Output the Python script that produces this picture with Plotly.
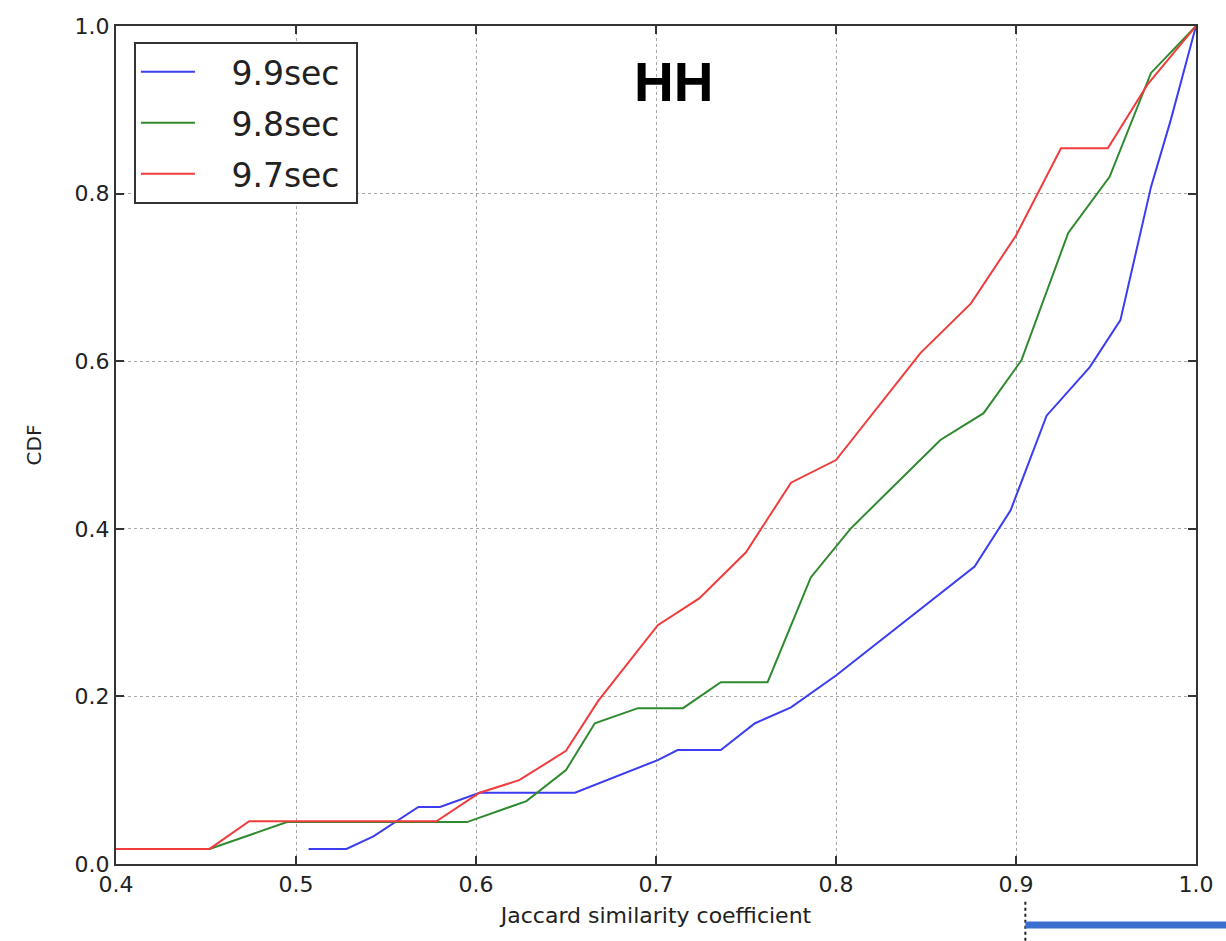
import plotly.graph_objects as go

# CDF curves of the Jaccard similarity coefficient for three time offsets
series_names = ["9.9sec", "9.8sec", "9.7sec"]

x_99 = [0.507, 0.528, 0.543, 0.568, 0.580, 0.602, 0.650, 0.655, 0.701, 0.712, 0.736,
        0.755, 0.775, 0.800, 0.877, 0.897, 0.917, 0.941, 0.958, 0.975, 0.986, 1.000]
y_99 = [0.018, 0.018, 0.033, 0.068, 0.068, 0.085, 0.085, 0.085, 0.124, 0.136, 0.136,
        0.168, 0.187, 0.225, 0.355, 0.422, 0.535, 0.593, 0.649, 0.808, 0.888, 1.000]

x_98 = [0.400, 0.452, 0.495, 0.580, 0.595, 0.628, 0.650, 0.666, 0.690, 0.715, 0.736,
        0.762, 0.786, 0.808, 0.858, 0.882, 0.903, 0.929, 0.952, 0.975, 1.000]
y_98 = [0.018, 0.018, 0.050, 0.050, 0.050, 0.075, 0.112, 0.168, 0.186, 0.186, 0.217,
        0.217, 0.342, 0.400, 0.506, 0.538, 0.601, 0.753, 0.820, 0.944, 1.000]

x_97 = [0.400, 0.452, 0.474, 0.578, 0.602, 0.624, 0.650, 0.668, 0.701, 0.724, 0.750,
        0.775, 0.800, 0.847, 0.875, 0.900, 0.925, 0.951, 0.973, 1.000]
y_97 = [0.018, 0.018, 0.051, 0.051, 0.085, 0.100, 0.135, 0.195, 0.285, 0.317, 0.372,
        0.455, 0.482, 0.610, 0.669, 0.750, 0.854, 0.854, 0.930, 1.000]

x_ticks = [0.4, 0.5, 0.6, 0.7, 0.8, 0.9, 1.0]
y_ticks = [0.0, 0.2, 0.4, 0.6, 0.8, 1.0]

colors = ["#3c3cf0", "#2f8a2f", "#f03c3c"]
xs = [x_99, x_98, x_97]
ys = [y_99, y_98, y_97]

fig = go.Figure()
for name, xv, yv, c in zip(series_names, xs, ys, colors):
    fig.add_trace(go.Scatter(
        x=xv, y=yv, mode="lines", legendgroup=name,
        name="\u00a0\u00a0\u00a0" + name + "\u00a0",
        line=dict(color=c, width=2),
    ))

axis_common = dict(
    showline=True, linecolor="#333333", linewidth=2, mirror="allticks",
    ticks="inside", ticklen=8, tickwidth=1.5, tickcolor="#333333",
    showgrid=True, gridcolor="#a8a8a8", gridwidth=1, griddash="dot",
    zeroline=False,
    tickfont=dict(family="DejaVu Sans", size=22, color="#222222"),
)

fig.update_xaxes(
    range=[0.4, 1.0], tickvals=x_ticks, ticktext=[f"{v:.1f}" for v in x_ticks],
    title=dict(text="Jaccard similarity coefficient",
               font=dict(family="DejaVu Sans", size=22, color="#222222"), standoff=11),
    **axis_common,
)
fig.update_yaxes(
    range=[0.0, 1.0], tickvals=y_ticks, ticktext=[f"{v:.1f}" for v in y_ticks],
    title=dict(text="CDF", font=dict(family="DejaVu Sans", size=20, color="#222222"),
               standoff=28),
    **axis_common,
)

fig.add_annotation(
    x=0.5166, y=0.933, xref="paper", yref="paper", text="<b>HH</b>",
    xanchor="center", yanchor="middle",
    showarrow=False, font=dict(family="Liberation Sans", size=55, color="black"),
)

# marker drawn beneath the x axis
fig.add_shape(type="line", xref="paper", yref="paper",
              x0=0.842, x1=0.842, y0=-0.045, y1=-0.095,
              line=dict(color="#222222", width=2, dash="dot"))
fig.add_shape(type="line", xref="paper", yref="paper",
              x0=0.842, x1=1.03, y0=-0.0728, y1=-0.0728,
              line=dict(color="#3a6fd0", width=7))

fig.update_layout(
    width=1226, height=941,
    margin=dict(l=116, r=19, t=26, b=77),
    plot_bgcolor="white", paper_bgcolor="white",
    showlegend=True,
    legend=dict(
        x=0.0166, y=0.981, xanchor="left", yanchor="top",
        bgcolor="white", bordercolor="#333333", borderwidth=2,
        font=dict(family="DejaVu Sans", size=33, color="#222222"),
        tracegroupgap=5, itemwidth=54,
    ),
)

fig.write_html("out.html")
